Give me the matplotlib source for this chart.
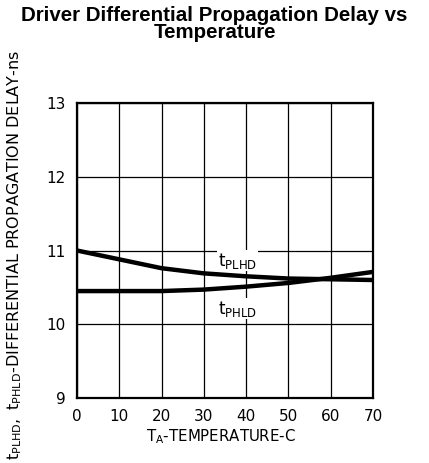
import numpy as np
import matplotlib
matplotlib.use('Agg')
import matplotlib.pyplot as plt

# data
temp = [0, 10, 20, 30, 40, 50, 60, 70]
t_plhd = [11.00, 10.88, 10.76, 10.69, 10.65, 10.62, 10.61, 10.60]
t_phld = [10.45, 10.45, 10.45, 10.47, 10.51, 10.56, 10.63, 10.71]
x_ticks = [0, 10, 20, 30, 40, 50, 60, 70]
y_ticks = [9, 10, 11, 12, 13]

plt.rcParams['font.family'] = ['DejaVu Sans']

fig = plt.figure(figsize=(4.29, 4.63), dpi=100)
ax = fig.add_axes([0.1795, 0.1404, 0.69, 0.6371])

ax.plot(temp, t_plhd, color='black', lw=3.2, solid_capstyle='butt')
ax.plot(temp, t_phld, color='black', lw=3.2, solid_capstyle='butt')

ax.set_xlim(0, 70)
ax.set_ylim(9, 13)
ax.set_xticks(x_ticks)
ax.set_yticks(y_ticks)
ax.grid(True, color='black', lw=0.9)
ax.tick_params(length=0, labelsize=11, pad=8)
for s in ax.spines.values():
    s.set_linewidth(1.6)

# curve labels
ax.text(38, 10.86, r'$\mathregular{t_{PLHD}}$', ha='center', va='center', fontsize=12,
        bbox=dict(facecolor='white', edgecolor='none', pad=0.5))
ax.text(38, 10.21, r'$\mathregular{t_{PHLD}}$', ha='center', va='center', fontsize=12,
        bbox=dict(facecolor='white', edgecolor='none', pad=0.5))

fig.text(0.515, 0.056, r'$\mathregular{T_A}$-TEMPERATURE-C', ha='center', va='center',
         fontsize=10.8)
fig.text(0.035, 0.449, r'$\mathregular{t_{PLHD},\ t_{PHLD}}$-DIFFERENTIAL PROPAGATION DELAY-ns',
         rotation=90, ha='center', va='center', fontsize=11.5)

fig.text(0.5, 0.988, 'Driver Differential Propagation Delay vs\nTemperature',
         ha='center', va='top', fontsize=14.8, fontweight='bold',
         family='Liberation Sans', linespacing=0.9)

fig.savefig('out.png', dpi=100)
